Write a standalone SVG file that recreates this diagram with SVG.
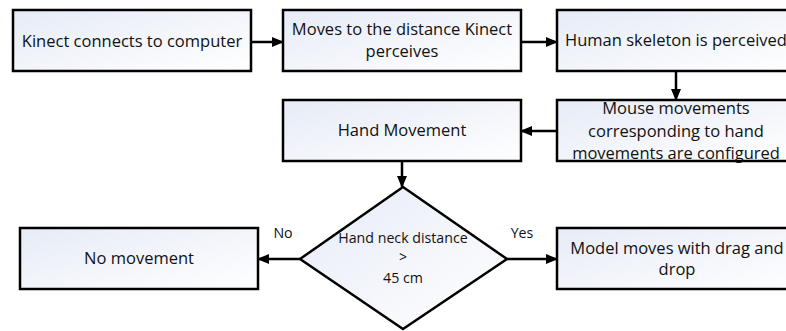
<svg xmlns="http://www.w3.org/2000/svg" width="786" height="331" viewBox="0 0 786 331">
<style>
.box{fill:url(#g);stroke:#000;stroke-width:2.5}
.t{font-family:"Open Sans","Noto Sans",sans-serif;font-size:16.5px;fill:#111;text-anchor:middle}
.s{font-size:14.2px}
.c{stroke:#000;stroke-width:2.5;fill:none;marker-end:url(#a)}
</style>
<defs>
<linearGradient id="g" x1="0" y1="0" x2="1" y2="1">
<stop offset="0" stop-color="#e6ebf6"/>
<stop offset="1" stop-color="#ffffff"/>
</linearGradient>
<marker id="a" markerUnits="userSpaceOnUse" markerWidth="12" markerHeight="10" refX="11" refY="5" orient="auto">
<path d="M0,0 L12,5 L0,10 Z" fill="#000"/>
</marker>
</defs>
<rect width="786" height="331" fill="#fff"/>
<g id="connectors">
<line class="c" x1="251" y1="42" x2="283" y2="42"/>
<line class="c" x1="521" y1="42" x2="557" y2="42"/>
<line class="c" x1="676" y1="71" x2="676" y2="100"/>
<line class="c" x1="557" y1="131" x2="521" y2="131"/>
<line class="c" x1="402" y1="161" x2="402" y2="187"/>
<line class="c" x1="300" y1="259" x2="258" y2="259"/>
<line class="c" x1="507" y1="259" x2="557" y2="259"/>
<text class="t s" x="283" y="238">No</text>
<text class="t s" x="522" y="238">Yes</text>
</g>
<g id="n1">
<rect class="box" x="13" y="10" width="238" height="61"/>
<text class="t" x="132" y="47">Kinect connects to computer</text>
</g>
<g id="n2">
<rect class="box" x="283" y="10" width="238" height="61"/>
<text class="t" x="402" y="35">Moves to the distance Kinect</text>
<text class="t" x="402" y="57">perceives</text>
</g>
<g id="n3">
<rect class="box" x="557" y="10" width="240" height="61"/>
<text class="t" x="676" y="46">Human skeleton is perceived</text>
</g>
<g id="n4">
<rect class="box" x="557" y="100" width="240" height="61"/>
<text class="t" x="676" y="114">Mouse movements</text>
<text class="t" x="676" y="137">corresponding to hand</text>
<text class="t" x="676" y="159">movements are configured</text>
</g>
<g id="n5">
<rect class="box" x="283" y="100" width="238" height="61"/>
<text class="t" x="402" y="136">Hand Movement</text>
</g>
<g id="d1">
<polygon class="box" points="403,187 507,259 403,329 300,259"/>
<text class="t s" x="403" y="243">Hand neck distance</text>
<text class="t s" x="403" y="262">&gt;</text>
<text class="t s" x="403" y="283">45 cm</text>
</g>
<g id="n6">
<rect class="box" x="20" y="228" width="238" height="61"/>
<text class="t" x="139" y="264">No movement</text>
</g>
<g id="n7">
<rect class="box" x="557" y="228" width="240" height="61"/>
<text class="t" x="677" y="254">Model moves with drag and</text>
<text class="t" x="677" y="275">drop</text>
</g>
</svg>
